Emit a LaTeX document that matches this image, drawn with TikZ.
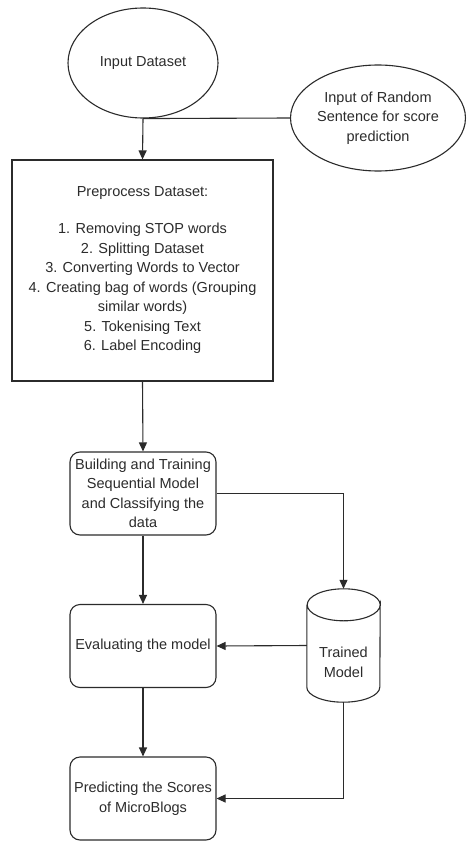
\documentclass[tikz,border=0pt]{standalone}
\usepackage{fontspec}
\setmainfont{Liberation Sans}
\usetikzlibrary{shapes.geometric,arrows.meta}
\definecolor{ink}{HTML}{2B2B2B}
\tikzset{
  base/.style={draw=ink, line width=1.1pt, text=ink, align=center, inner sep=1pt},
  oval/.style={base, ellipse},
  sqbox/.style={base, rectangle, minimum width=261pt, minimum height=221pt},
  rbox/.style={base, rectangle, rounded corners=10pt, minimum width=146pt, minimum height=83pt},
  label text/.style={text=ink, align=center, inner sep=1pt},
  conn/.style={draw=ink, line width=1.1pt},
  arr/.style={conn, -{Triangle[length=9pt,width=8pt]}}
}
\begin{document}
\begin{tikzpicture}[x=1pt,y=-1pt,font=\fontsize{14.5}{19.5}\selectfont]
\useasboundingbox (0,0) rectangle (466,843);
\node[oval, minimum width=150pt, minimum height=110pt] (in) at (143,63) {Input Dataset};
\node[oval, minimum width=168pt, minimum height=106pt] (rand) at (378,118) {Input of Random\\Sentence for score\\prediction};
\node[sqbox] (pre) at (142.5,270.5) {\mbox{}\\[-10.5pt]Preprocess Dataset:\\[18pt]
1. Removing STOP words\\
2. Splitting Dataset\\
3. Converting Words to Vector\\
4. Creating bag of words (Grouping\\
similar words)\\
5. Tokenising Text\\
6. Label Encoding};
\node[rbox] (build) at (143,493.5) {Building and Training\\Sequential Model\\and Classifying the\\data};
\node[rbox] (eval) at (143,646) {Evaluating the model};
\node[rbox] (pred) at (143,798.5) {Predicting the Scores\\of MicroBlogs};
% cylinder "Trained Model"
\node[minimum width=73pt, minimum height=113pt, inner sep=0pt] (tm) at (343.5,645.5) {};
\node[label text] (tmtxt) at (343.5,662.5) {Trained\\Model};
\draw[conn] ([yshift=-16pt]tm.north west) -- ([yshift=15pt]tm.south west)
  arc[start angle=180, end angle=0, x radius=36.5, y radius=15]
  -- ([yshift=-16pt]tm.north east)
  arc[start angle=0, end angle=360, x radius=36.5, y radius=16];
% connectors
\draw[conn] (rand.west) -- (in.south);
\draw[arr] (in.south) -- (pre.north);
\draw[arr] (pre.south) -- (build.north);
\draw[arr] (build.east) -| (tm.north);
\draw[arr] (build.south) -- (eval.north);
\draw[arr] (tm.west) -- (eval.east);
\draw[arr] (eval.south) -- (pred.north);
\draw[arr] (tm.south) |- (pred.east);
\end{tikzpicture}
\end{document}
